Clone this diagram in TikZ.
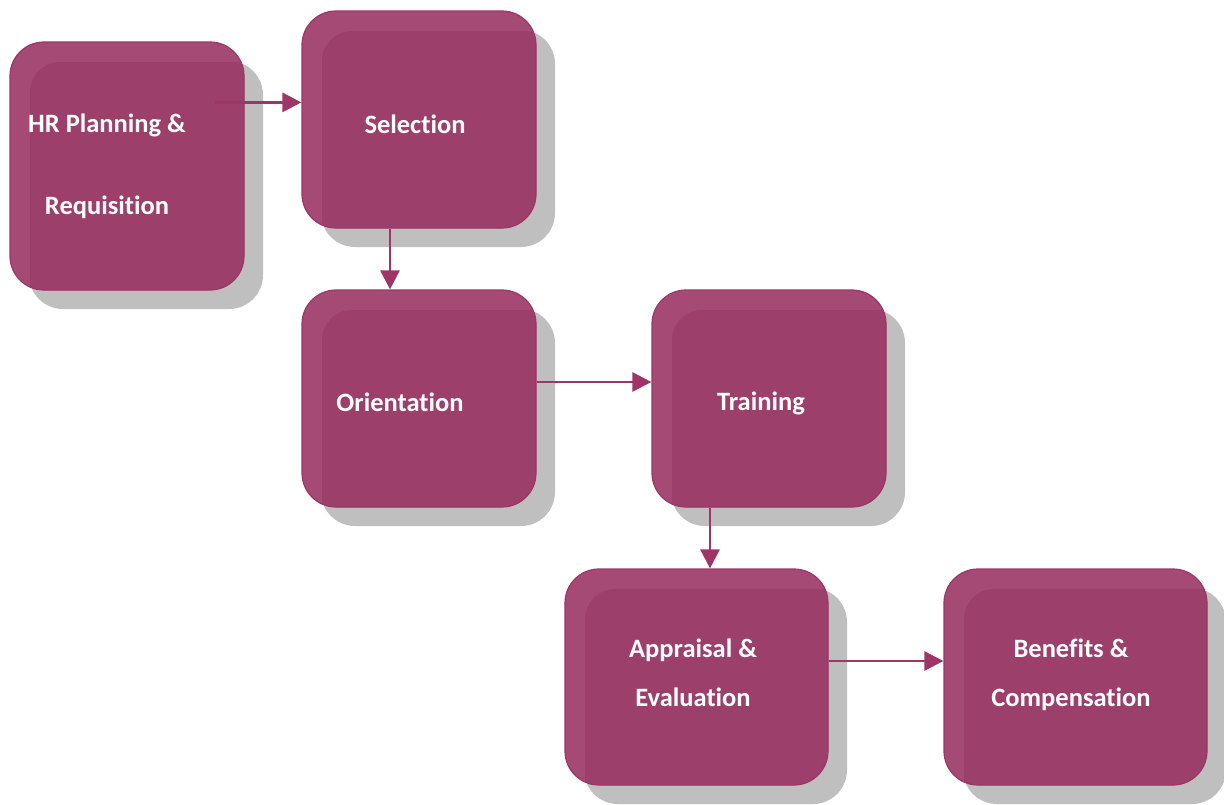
\documentclass[tikz,border=0pt]{standalone}
\usepackage{fontspec}
\setmainfont{Carlito}[Ligatures={NoCommon,NoRare,NoDiscretionary}]
\usetikzlibrary{arrows.meta,shadows,calc}
\definecolor{boxlight}{HTML}{A54A74}
\definecolor{boxdark}{HTML}{9C406B}
\definecolor{boxedge}{HTML}{9E3566}
\definecolor{shadowgray}{HTML}{BFBFBF}
\definecolor{arrowcol}{HTML}{9E3566}
\tikzset{
  procbox/.style={draw=boxedge, line width=1.2pt, fill=boxlight, rounded corners=34pt,
    inner sep=0pt,
    drop shadow={shadow xshift=19pt, shadow yshift=-19pt, fill=shadowgray, opacity=1},
    path picture={\fill[boxdark, rounded corners=30pt]
      ([xshift=20pt,yshift=-20pt]path picture bounding box.north west) rectangle
      ([xshift=40pt,yshift=-40pt]path picture bounding box.south east);}},
  lbl/.style={text=white, font=\fontsize{26.5}{32}\selectfont\bfseries, align=center, inner sep=0pt},
  flow/.style={draw=arrowcol, line width=2.8pt, -{Triangle[length=19pt,width=19pt]}}
}
\begin{document}
\begin{tikzpicture}[x=1pt,y=-1pt]
\useasboundingbox (0,0) rectangle (1224,804);
\node[procbox, minimum width=234pt, minimum height=248pt] (b1) at (127,166) {};
\node[procbox, minimum width=234pt, minimum height=217pt] (b2) at (419,119.5) {};
\node[procbox, minimum width=234pt, minimum height=217pt] (b3) at (419,398.5) {};
\node[procbox, minimum width=234pt, minimum height=217pt] (b4) at (769,398.5) {};
\node[procbox, minimum width=263pt, minimum height=216pt] (b5) at (696.5,677) {};
\node[procbox, minimum width=263pt, minimum height=216pt] (b6) at (1075.5,677) {};
\node[lbl] (t1) at (107,166) {HR Planning \&\\[50pt]Requisition};
\node[lbl] (t2) at (415,124) {Selection};
\node[lbl] (t3) at (400,402) {Orientation};
\node[lbl] (t4) at (761,403) {Training};
\node[lbl] (t5) at (693,673) {Appraisal \&\\[17pt]Evaluation};
\node[lbl] (t6) at (1071,674.5) {Benefits \&\\[17pt]Compensation};
\coordinate (s1) at ($(b1.north east)+(-30,61)$);
\draw[flow] (s1) -- (s1 -| b2.west);
\draw[flow] ([xshift=-29pt]b2.south) -- ([xshift=-29pt]b2.south |- b3.north);
\draw[flow] ([yshift=16.5pt]b3.east) -- ([yshift=16.5pt]b3.east -| b4.west);
\draw[flow] ([xshift=-59pt]b4.south) -- ([xshift=-59pt]b4.south |- b5.north);
\draw[flow] ([yshift=16pt]b5.east) -- ([yshift=16pt]b5.east -| b6.west);
\end{tikzpicture}
\end{document}
